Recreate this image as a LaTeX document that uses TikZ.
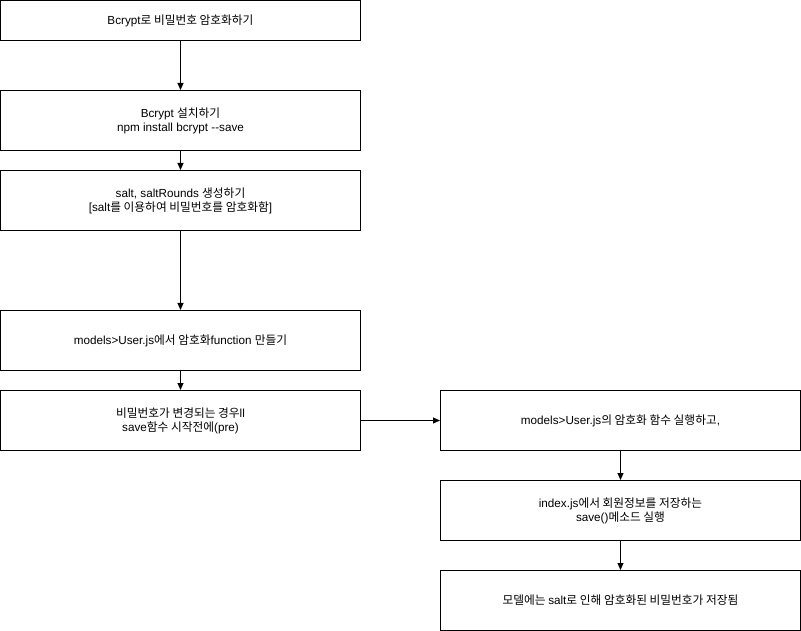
\documentclass[tikz,border=0pt]{standalone}
\usepackage{fontspec}
\setmainfont{Liberation Sans}
\newfontfamily\krfont{Noto Sans CJK KR}
\newcommand{\kr}[1]{{\krfont #1}}
\usetikzlibrary{arrows.meta}
\begin{document}
\begin{tikzpicture}[x=1pt,y=-1pt,
  stepbox/.style={draw=black,line width=1pt,minimum width=360pt,minimum height=60pt,
    inner sep=0pt,align=center,font=\fontsize{11.7}{14}\selectfont},
  topbox/.style={stepbox,minimum height=40pt},
  flow/.style={draw=black,line width=1pt,-{Triangle[length=7pt,width=6pt]}}]
\useasboundingbox (0,0) rectangle (801,631);
\node[topbox] (b1) at (180.5,20.5) {Bcrypt\kr{로 비밀번호 암호화하기}};
\node[stepbox] (b2) at (180.5,120.5) {Bcrypt \kr{설치하기}\\npm install bcrypt -{}-save};
\node[stepbox] (b3) at (180.5,200.5) {salt, saltRounds \kr{생성하기}\\{[}salt\kr{를 이용하여 비밀번호를 암호화함}]};
\node[stepbox] (b4) at (180.5,340.5) {models\textgreater User.js\kr{에서 암호화}function \kr{만들기}};
\node[stepbox] (b5) at (180.5,420.5) {\kr{비밀번호가 변경되는 경우}ll\\save\kr{함수 시작전에}(pre)};
\node[stepbox] (b6) at (620.5,420.5) {models\textgreater User.js\kr{의 암호화 함수 실행하고},};
\node[stepbox] (b7) at (620.5,510.5) {index.js\kr{에서 회원정보를 저장하는}\\save()\kr{메소드 실행}};
\node[stepbox] (b8) at (620.5,600.5) {\kr{모델에는 }salt\kr{로 인해 암호화된 비밀번호가 저장됨}};
\draw[flow] (b1) -- (b2);
\draw[flow] (b2) -- (b3);
\draw[flow] (b3) -- (b4);
\draw[flow] (b4) -- (b5);
\draw[flow] (b5) -- (b6);
\draw[flow] (b6) -- (b7);
\draw[flow] (b7) -- (b8);
\end{tikzpicture}
\end{document}
